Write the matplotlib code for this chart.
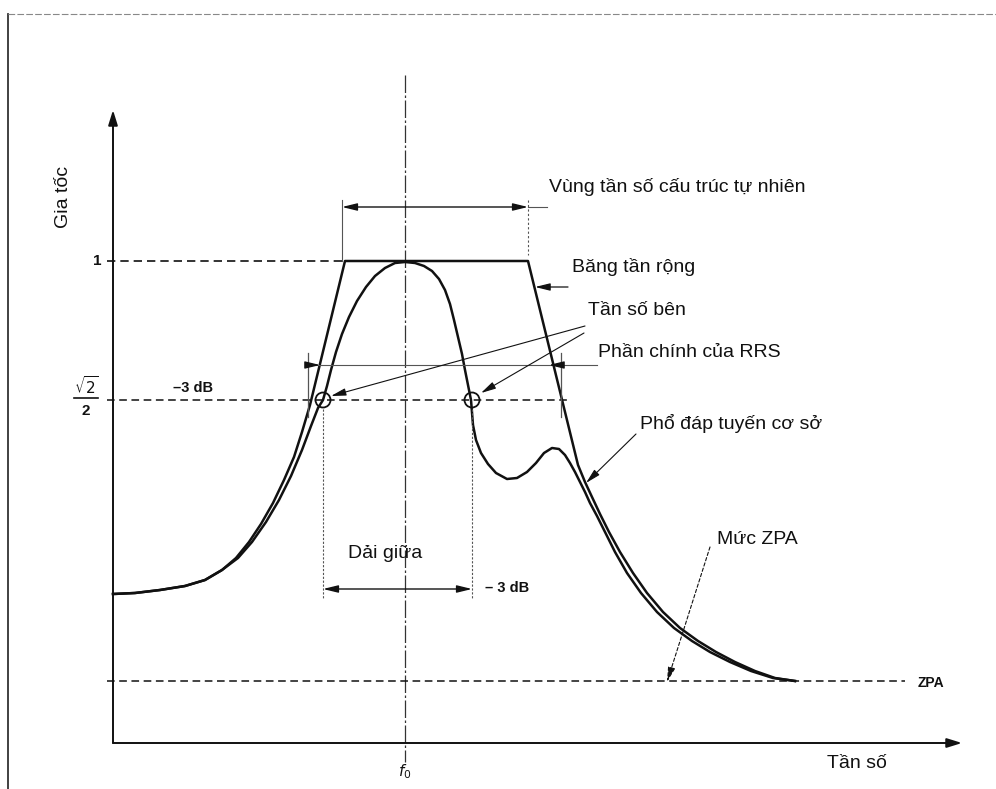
import matplotlib.pyplot as plt
from matplotlib.patches import Circle

# outer envelope (broad band), pixel-like coordinates
broad_x = [113, 135, 160, 185, 205, 222, 236, 249, 261, 273, 284, 294, 302, 310, 345,
           528, 578, 585, 592, 600, 609, 620, 633, 647, 663, 680, 698, 716, 735, 755, 775, 795]
broad_y = [594, 593, 590, 586, 580, 570, 558, 542, 524, 503, 480, 457, 432, 405, 261,
           261, 465, 482, 497, 514, 532, 552, 573, 593, 612, 628, 641, 652, 662, 671, 678, 681]

# base response spectrum with peak at f0 and side hump
narrow_x = [113, 135, 160, 185, 205, 222, 238, 252, 266, 279, 291, 302, 311, 318, 323, 327, 331,
            336, 342, 349, 357, 366, 375, 385, 395, 405, 415, 424, 432, 439, 445, 450, 454, 458,
            462, 465, 468, 471, 473, 476, 481, 488, 496, 507, 517, 527, 536, 544, 552, 559, 565,
            570, 575, 580, 585, 590, 597, 605, 615, 627, 641, 657, 674, 692, 710, 730, 751, 773, 795]
narrow_y = [594, 593, 590, 586, 580, 570, 558, 542, 522, 500, 476, 450, 426, 408, 400, 386, 370,
            352, 334, 317, 301, 287, 276, 268, 263, 262, 263, 266, 271, 279, 290, 304, 320, 337,
            354, 370, 385, 400, 425, 440, 453, 464, 473, 479, 478, 472, 463, 453, 448, 449, 455,
            463, 472, 482, 492, 503, 516, 532, 552, 573, 593, 612, 628, 641, 652, 662, 671, 678, 681]

# levels (pixel rows)
y_one = 261
y_half = 400
y_zpa = 681
y_axis = 743
x_axis = 113
x_f0 = 405
x_3db_narrow = [323, 472]
x_3db_broad = [308, 561]

ink = '#111111'
grey = '#555555'
plt.rcParams['font.family'] = ['Liberation Sans', 'DejaVu Sans']

fig = plt.figure(figsize=(9.96, 7.89), dpi=100)
ax = fig.add_axes([0, 0, 1, 1])
ax.set_xlim(0, 996)
ax.set_ylim(789, 0)
ax.axis('off')

# page frame
ax.plot([8, 8], [14, 789], color='#333333', lw=1.3)
ax.plot([8, 996], [14, 14], color='#888888', lw=0.8, ls=(0, (6, 2)))

# axes with arrows
arr = dict(arrowstyle='-|>,head_length=0.9,head_width=0.28', color=ink, lw=1.4, shrinkA=0, shrinkB=0)
ax.annotate('', xy=(x_axis, 110), xytext=(x_axis, y_axis), arrowprops=arr)
ax.annotate('', xy=(962, y_axis), xytext=(x_axis, y_axis), arrowprops=arr)

# f0 centre line
ax.plot([x_f0, x_f0], [75, 762], color='#333333', lw=0.9, ls=(0, (14, 2, 2, 2)))

# reference levels
ax.plot([x_axis - 6, 345], [y_one, y_one], color=ink, lw=1.2, ls=(0, (5, 3)))
ax.plot([x_axis - 6, 570], [y_half, y_half], color=ink, lw=1.1, ls=(0, (5, 3)))
ax.plot([x_axis - 6, 905], [y_zpa, y_zpa], color=ink, lw=1.1, ls=(0, (5, 3)))

# curves
ax.plot(broad_x, broad_y, color=ink, lw=1.8, solid_joinstyle='round')
ax.plot(narrow_x, narrow_y, color=ink, lw=1.8, solid_joinstyle='round')

# -3 dB circles
for xc in x_3db_narrow:
    ax.add_patch(Circle((xc, y_half), 7.5, fill=False, ec=ink, lw=1.3, zorder=5))

thin = dict(color=grey, lw=0.8)
dim = dict(arrowstyle='<|-|>,head_length=0.9,head_width=0.22', color=ink, lw=1.0, shrinkA=0, shrinkB=0)
one = dict(arrowstyle='-|>,head_length=0.9,head_width=0.22', color=ink, lw=0.9, shrinkA=0, shrinkB=0)

# natural frequency range dimension
ax.plot([342, 342], [200, y_one], **thin)
ax.plot([528, 528], [200, 255], color=grey, lw=0.8, ls=(0, (2, 2)))
ax.annotate('', xy=(342, 207), xytext=(528, 207), arrowprops=dim)
ax.plot([528, 547], [207, 207], **thin)

# main part of RRS (-3 dB of broad band)
ax.plot([x_3db_broad[0], 597], [365, 365], **thin)
for xb in x_3db_broad:
    ax.plot([xb, xb], [353, 417], color=grey, lw=0.9)
ax.annotate('', xy=(320, 365), xytext=(x_3db_broad[0], 365), arrowprops=one)
ax.annotate('', xy=(549, 365), xytext=(x_3db_broad[1], 365), arrowprops=one)

# mid band dimension
for xc in x_3db_narrow:
    ax.plot([xc, xc], [409, 598], color=grey, lw=0.8, ls=(0, (2, 1.5)))
ax.annotate('', xy=(323, 589), xytext=(472, 589), arrowprops=dim)

# leaders
ax.annotate('', xy=(535, 287), xytext=(568, 287), arrowprops=one)
ax.annotate('', xy=(331, 396), xytext=(585, 326), arrowprops=dict(one, lw=0.8))
ax.annotate('', xy=(481, 393), xytext=(584, 333), arrowprops=dict(one, lw=0.8))
ax.annotate('', xy=(586, 483), xytext=(636, 434), arrowprops=dict(one, lw=0.8))
ax.annotate('', xy=(667, 682), xytext=(710, 547),
            arrowprops=dict(one, lw=0.8, linestyle=(0, (3, 2))))

# texts
fs = 14
ax.text(549, 187, 'Vùng tần số cấu trúc tự nhiên', fontsize=fs, va='center', color=ink)
ax.text(572, 267, 'Băng tần rộng', fontsize=fs, va='center', color=ink)
ax.text(588, 310, 'Tần số bên', fontsize=fs, va='center', color=ink)
ax.text(598, 352, 'Phần chính của RRS', fontsize=fs, va='center', color=ink)
ax.text(640, 423, 'Phổ đáp tuyến cơ sở', fontsize=fs, va='center', color=ink)
ax.text(717, 539, 'Mức ZPA', fontsize=fs, va='center', color=ink)
ax.text(348, 553, 'Dải giữa', fontsize=fs, va='center', color=ink)
ax.text(827, 763, 'Tần số', fontsize=fs, va='center', color=ink)
ax.text(63, 197, 'Gia tốc', fontsize=fs, va='center', ha='center', rotation=90, color=ink)
ax.text(485, 588, '– 3 dB', fontsize=10.5, va='center', color=ink, fontweight='bold')
ax.text(173, 388, '–3 dB', fontsize=10.5, va='center', color=ink, fontweight='bold')
ax.text(918, 683, 'ZPA', fontsize=10, va='center', color=ink, fontweight='bold')
ax.text(97, y_one, '1', fontsize=11, va='center', ha='center', color=ink, fontweight='bold')
ax.text(86, 386, r'$\sqrt{2}$', fontsize=11, va='center', ha='center', color=ink)
ax.plot([74, 98], [398, 398], color=ink, lw=1.2)
ax.text(86, 411, '2', fontsize=11, va='center', ha='center', color=ink, fontweight='bold')
ax.text(x_f0, 772, r'$f_0$', fontsize=11, va='center', ha='center', color=ink)

fig.savefig('out.png', dpi=100, facecolor='white')
